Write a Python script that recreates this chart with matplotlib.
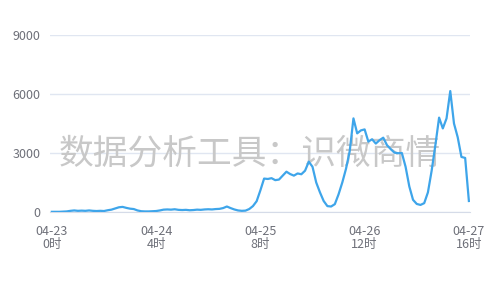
import numpy as np
import matplotlib.pyplot as plt

plt.rcParams['font.family'] = ['Noto Sans CJK SC', 'DejaVu Sans']

# hourly values from 04-23 0时 to 04-27 16时
values = [
    10, 10, 10, 20, 30, 60, 80, 60, 70, 60,
    80, 60, 50, 60, 50, 90, 120, 180, 240, 260,
    210, 170, 150, 80, 40, 30, 30, 40, 50, 80,
    120, 130, 120, 140, 110, 100, 110, 90, 100, 120,
    110, 130, 140, 130, 150, 160, 200, 280, 200, 130,
    80, 60, 70, 150, 300, 550, 1100, 1700, 1680, 1720,
    1620, 1650, 1850, 2050, 1930, 1850, 1960, 1920, 2100, 2560,
    2300, 1500, 1000, 560, 300, 280, 400, 900, 1500, 2200,
    3100, 4760, 4000, 4150, 4200, 3580, 3700, 3480, 3650, 3780,
    3400, 3200, 3020, 2990, 3000, 2300, 1300, 620, 410, 360,
    450, 1000, 2100, 3400, 4800, 4250, 4760, 6150, 4500, 3800,
    2800, 2750, 560,
]
tick_hours = [0, 28, 56, 84, 112]
tick_labels = ["04-23\n0时", "04-24\n4时", "04-25\n8时", "04-26\n12时", "04-27\n16时"]
y_ticks = [0, 3000, 6000, 9000]

hours = np.arange(len(values))

fig = plt.figure(figsize=(5, 3), dpi=100)
ax = fig.add_axes([0.1, 0.2933, 0.84, 0.59])

ax.plot(hours, values, color='#3ea5ea', lw=1.6, zorder=3)

ax.set_xlim(-0.5, 112.3)
ax.set_ylim(0, 9000)
ax.set_yticks(y_ticks)
ax.set_yticklabels([str(v) for v in y_ticks])
ax.set_xticks(tick_hours)
ax.set_xticklabels(tick_labels, linespacing=1.0)

ax.grid(axis='y', color='#e0e6f1', lw=1)
ax.set_axisbelow(True)
for s in ['top', 'right', 'left']:
    ax.spines[s].set_visible(False)
ax.spines['bottom'].set_color('#d5dbe8')
ax.tick_params(axis='both', length=0, colors='#6e7079', labelsize=9)
ax.tick_params(axis='y', pad=7)
ax.tick_params(axis='x', pad=9)

# watermark, behind the line
ax.text(0.5, 0.487, "数据分析工具：识微商情", fontsize=25, color='#c8c8c8',
        ha='center', va='center', zorder=2, transform=fig.transFigure)

fig.savefig("out.png", dpi=100)
